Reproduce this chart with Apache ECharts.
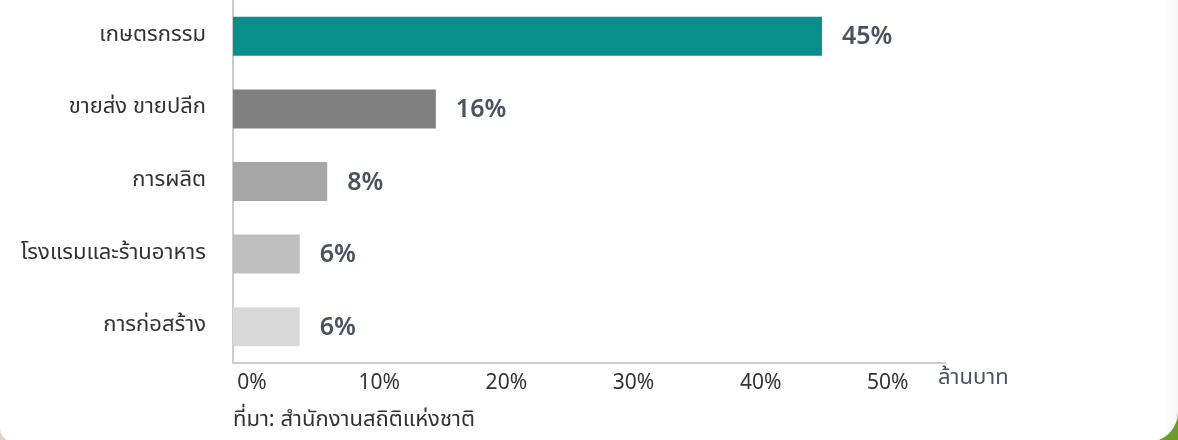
<!DOCTYPE html>
<html>
<head>
<meta charset="utf-8">
<script src="https://cdn.jsdelivr.net/npm/echarts@6/dist/echarts.min.js"></script>
<style>
  html, body { margin: 0; padding: 0; }
  body {
    width: 1178px; height: 440px; overflow: hidden; position: relative;
    background: linear-gradient(to right, #ddd3c5 0%, #ddd3c5 50%, #6d9a2c 50%, #6d9a2c 100%);
  }
  .card {
    position: absolute; left: 0; top: -60px; width: 1178px; height: 502px;
    background: linear-gradient(to right, #ffffff 98.8%, #f5f5f5 100%);
    border-radius: 0 0 30px 14px;
  }
  #chart { position: absolute; left: 0; top: 0; width: 1178px; height: 440px; }
</style>
</head>
<body>
<div class="card"></div>
<div id="chart"></div>
<script>
// หมวดธุรกิจ
const categories = ["เกษตรกรรม", "ขายส่ง ขายปลีก", "การผลิต", "โรงแรมและร้านอาหาร", "การก่อสร้าง"];
// ความยาวแท่ง (อ่านจากภาพ)
const values = [45, 15.5, 7.2, 5.1, 5.1];
// ป้ายค่าบนแท่ง
const valueLabels = ["45%", "16%", "8%", "6%", "6%"];
const barColors = ["#088f8c", "#808080", "#a6a6a6", "#bfbfbf", "#d9d9d9"];
// ป้ายแกน x
const xTickValues = [0, 10, 20, 30, 40, 50];
const xTickLabels = ["0%", "10%", "20%", "30%", "40%", "50%"];
const axisName = "ล้านบาท";
const sourceText = "ที่มา: สำนักงานสถิติแห่งชาติ";

const font = '"Noto Sans Thai", "Noto Sans", sans-serif';
const chart = echarts.init(document.getElementById("chart"));

const option = {
  animation: false,
  textStyle: { fontFamily: font },
  grid: { left: 233, top: 0, width: 712, height: 363 },
  xAxis: [
    {
      type: "value",
      min: 0,
      max: 54.4,
      interval: 10,
      axisLine: { show: true, lineStyle: { color: "#cccccc", width: 2 } },
      axisTick: { show: false },
      axisLabel: { show: false },
      splitLine: { show: false }
    },
    {
      // แกนสำหรับป้ายเท่านั้น
      type: "value",
      position: "bottom",
      min: -1.5,
      max: 54.5,
      axisLine: { show: false },
      axisTick: { show: false },
      splitLine: { show: false },
      axisLabel: {
        margin: 11,
        fontSize: 21,
        color: "#333333",
        fontFamily: font,
        showMinLabel: false,
        showMaxLabel: false,
        formatter: function (v) {
          const i = xTickValues.indexOf(v);
          return i >= 0 ? xTickLabels[i] : "";
        }
      },
      name: axisName,
      nameLocation: "end",
      nameGap: -7,
      nameTextStyle: {
        fontSize: 22,
        color: "#4a5160",
        fontFamily: font,
        verticalAlign: "top",
        align: "left",
        padding: [6, 0, 0, 0]
      }
    }
  ],
  yAxis: {
    type: "category",
    inverse: true,
    data: categories,
    axisLine: { show: true, lineStyle: { color: "#cccccc", width: 2 } },
    axisTick: { show: false },
    axisLabel: { margin: 27, fontSize: 22, color: "#333333", fontFamily: font }
  },
  series: [
    {
      type: "bar",
      xAxisIndex: 0,
      barWidth: 39,
      data: values.map(function (v, i) {
        return { value: v, itemStyle: { color: barColors[i] } };
      }),
      label: {
        show: true,
        position: "right",
        distance: 20,
        offset: [0, 3],
        fontSize: 25,
        fontWeight: 600,
        color: "#4a5160",
        fontFamily: font,
        formatter: function (p) { return valueLabels[p.dataIndex]; }
      }
    }
  ],
  graphic: [
    {
      type: "text",
      left: 233,
      top: 411,
      style: { text: sourceText, fontSize: 22, fill: "#333333", fontFamily: font }
    }
  ]
};
chart.setOption(option);
</script>
</body>
</html>
